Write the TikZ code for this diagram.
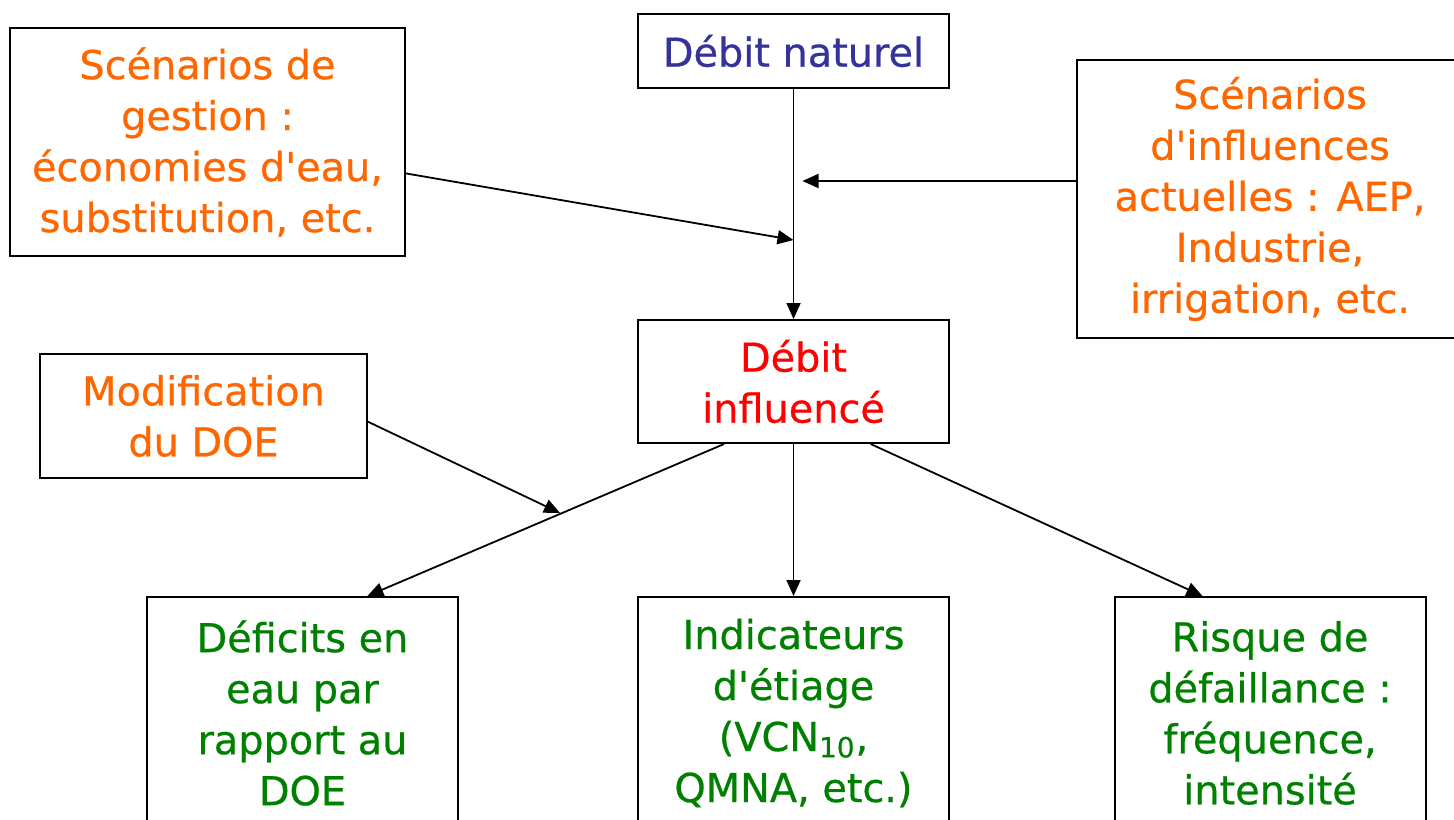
\documentclass[tikz,border=0pt]{standalone}
\usepackage{fontspec}
\setmainfont{DejaVu Sans}[FakeBold=0.6]
\usetikzlibrary{arrows.meta}
\definecolor{scenorange}{HTML}{FF6600}
\definecolor{natblue}{HTML}{333399}
\definecolor{inflred}{HTML}{FF0000}
\definecolor{resgreen}{HTML}{008000}
\begin{document}
\begin{tikzpicture}[x=0.5pt, y=-0.5pt,
  every node/.style={font=\fontsize{19.9}{25.5}\selectfont, align=center},
  box/.style={draw, line width=1pt, inner sep=0pt},
  result/.style={box, text=resgreen, minimum width=155.5pt, minimum height=116pt},
  arr/.style={line width=0.9pt, -{Triangle[length=8pt,width=7pt]}}]
\useasboundingbox (0,0) rectangle (1454,819);
\node[box, text=natblue, minimum width=155.5pt, minimum height=37pt] (nat) at (793.5,51) {Débit naturel};
\node[box, text=inflred, minimum width=155.5pt, minimum height=61.5pt] (infl) at (793.5,381.5) {Débit\\influencé};
\node[box, text=scenorange, minimum width=197.5pt, minimum height=114pt] (gestion) at (207.5,142) {Scénarios de\\gestion :\\économies d\textquotesingle eau,\\substitution, etc.};
\node[box, text=scenorange, minimum width=193pt, minimum height=139pt] (infact) at (1270,199) {Scénarios\\d\textquotesingle influences\\actuelles : AEP,\\Industrie,\\irrigation, etc.};
\node[box, text=scenorange, minimum width=163.5pt, minimum height=62pt] (modif) at (203.5,416) {Modification\\du DOE};
\node[result] (deficits) at (302.5,713) {Déficits en\\eau par\\rapport au\\DOE};
\node[result] (indic) at (793.5,713) {Indicateurs\\d\textquotesingle étiage\\(VCN\textsubscript{10},\\QMNA, etc.)};
\node[result] (risque) at (1270,713) {Risque de\\défaillance :\\fréquence,\\intensité};
\coordinate (jA) at (802.5,181);
\coordinate (jB) at (793.5,240);
\coordinate (jC) at (560,513);
\draw[arr] (nat) -- (infl);
\draw[arr] (infact.west |- jA) -- (jA);
\draw[arr] (gestion.-9) -- (jB);
\draw[arr] (infl.222) -- (deficits.61.7);
\draw[arr] (infl) -- (indic);
\draw[arr] (infl.-39) -- (risque.120);
\draw[arr] (modif.-2) -- (jC);
\end{tikzpicture}
\end{document}
